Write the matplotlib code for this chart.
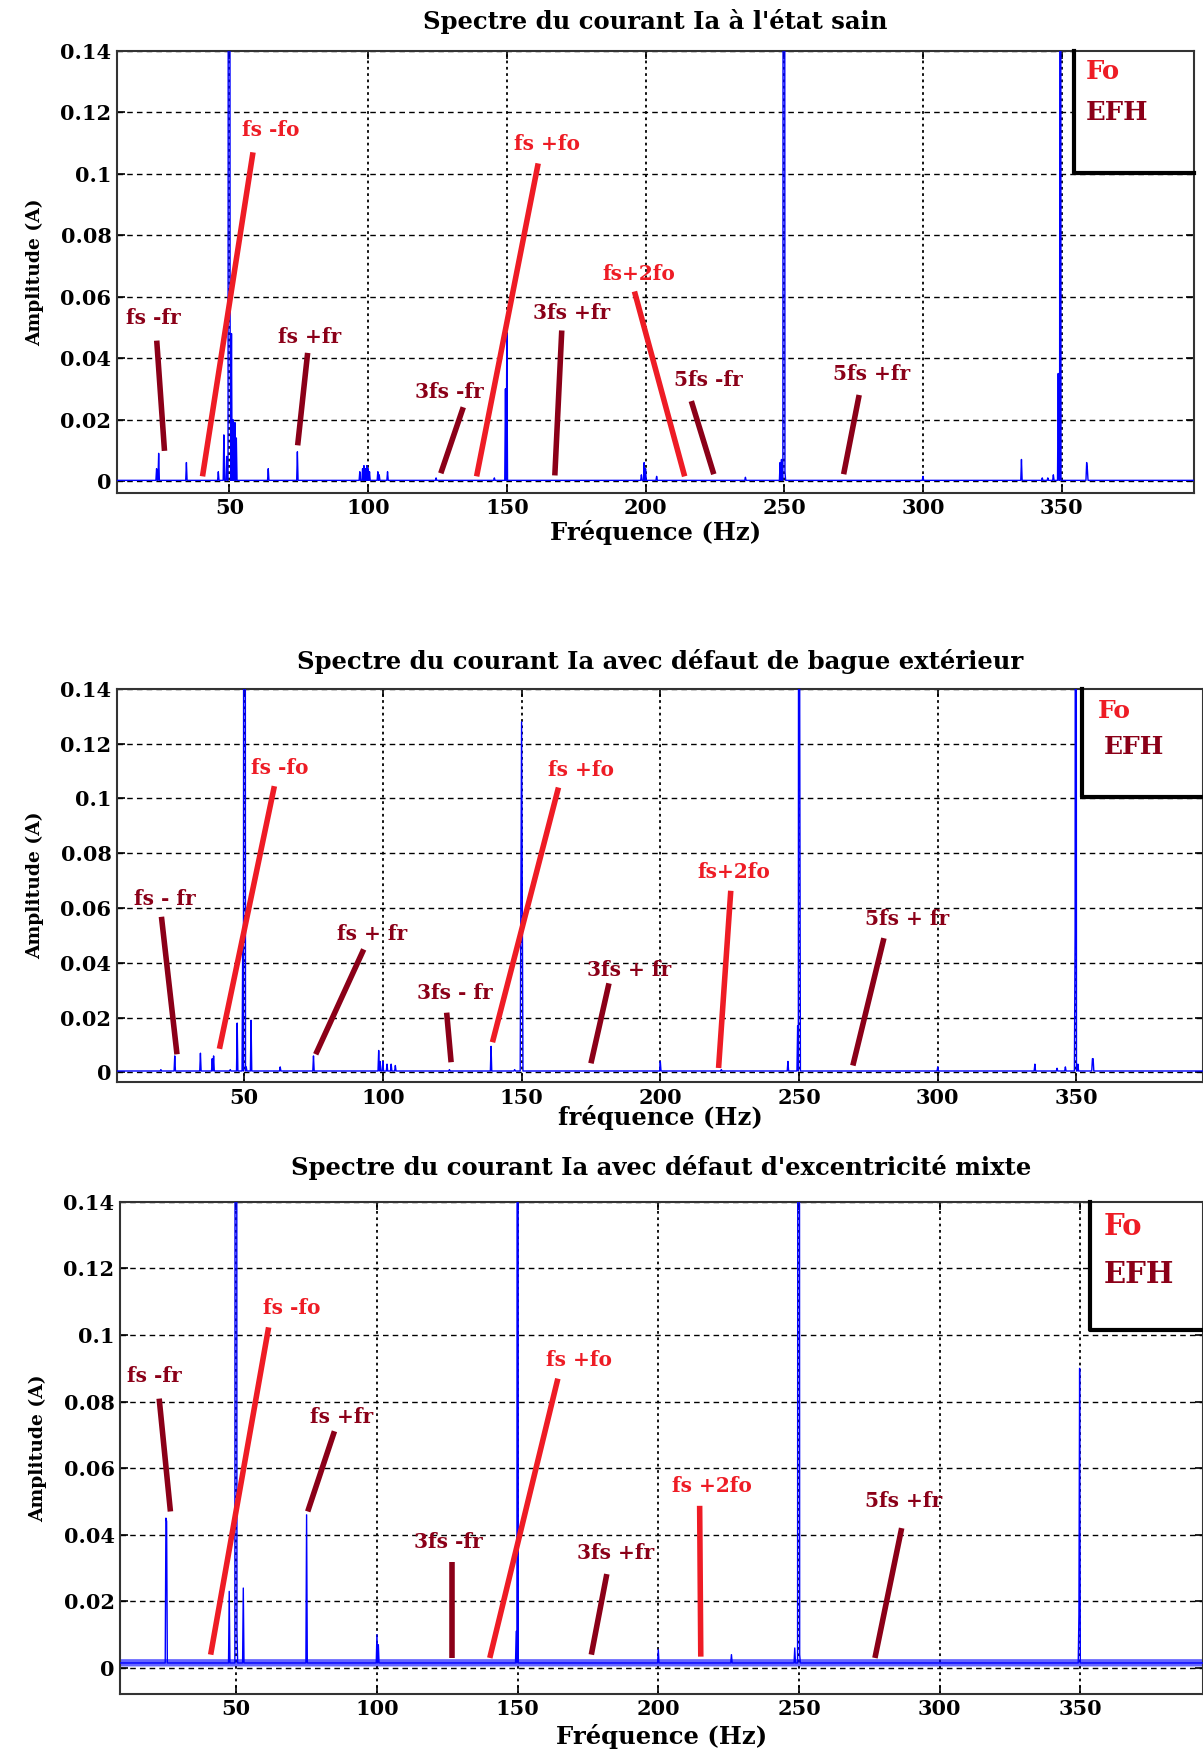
import numpy as np
import matplotlib
matplotlib.use("Agg")
import matplotlib.pyplot as plt
from matplotlib.patches import Rectangle

# ---- data ----
TITLES = ["Spectre du courant Ia à l'état sain",
          "Spectre du courant Ia avec défaut de bague extérieur",
          "Spectre du courant Ia avec défaut d'excentricité mixte"]
XLABELS = ["Fréquence (Hz)", "fréquence (Hz)", "Fréquence (Hz)"]
YTICKS = [0, 0.02, 0.04, 0.06, 0.08, 0.1, 0.12, 0.14]
YTICKLABELS = ["0", "0.02", "0.04", "0.06", "0.08", "0.1", "0.12", "0.14"]
XTICKS = [50, 100, 150, 200, 250, 300, 350]

# spectrum peaks (Hz, A); tall peaks are clipped by the axis
p1_freq = [23.8, 24.5, 34.5, 46, 48, 49, 49.75, 50, 50.25, 50.75, 51.25, 52, 52.5,
           64, 74.5, 97, 98, 98.5, 99, 99.5, 100, 100.5, 103.5, 104, 107, 124.5,
           145.5, 149.5, 150, 198.5, 199.5, 200, 204, 236, 248.5, 249, 249.75, 250,
           250.25, 300, 335.5, 343, 345, 347, 348.75, 349.5, 359, 359.25]
p1_amp = [0.004, 0.009, 0.006, 0.003, 0.015, 0.008, 0.6, 0.6, 0.053, 0.048, 0.02, 0.019, 0.014,
          0.004, 0.0095, 0.003, 0.004, 0.005, 0.004, 0.005, 0.004, 0.003, 0.003, 0.002, 0.003, 0.001,
          0.001, 0.03, 0.048, 0.002, 0.006, 0.004, 0.0015, 0.0012, 0.006, 0.007, 0.6, 0.6,
          0.003, 0.0015, 0.007, 0.001, 0.001, 0.002, 0.035, 0.6, 0.006, 0.004]
p1_floor = 0.0002

p2_freq = [20, 25, 34.25, 38.5, 39, 45, 47.5, 49.5, 50, 50.25, 50.75, 52.5, 63, 75,
           98.5, 99, 100, 101.5, 103, 104.5, 124, 139, 147.5, 149.75, 150, 150.25,
           200, 222, 246, 249.5, 250, 250.25, 300, 335, 343, 346, 349.5, 349.75,
           350.5, 355.75, 356]
p2_amp = [0.001, 0.006, 0.007, 0.005, 0.006, 0.001, 0.018, 0.05, 0.6, 0.6, 0.002, 0.019, 0.002, 0.006,
          0.008, 0.004, 0.004, 0.003, 0.003, 0.0025, 0.001, 0.0095, 0.001, 0.065, 0.128, 0.06,
          0.004, 0.001, 0.004, 0.017, 0.6, 0.131, 0.002, 0.003, 0.0015, 0.002, 0.051, 0.6,
          0.003, 0.005, 0.005]
p2_floor = 0.0005

p3_freq = [25, 25.25, 47.5, 49.75, 50, 50.25, 52.5, 75, 100, 100.5, 149.5, 150,
           200, 226, 248.5, 249.75, 250, 250.25, 349.5, 349.75]
p3_amp = [0.045, 0.044, 0.023, 0.6, 0.6, 0.011, 0.024, 0.046, 0.010, 0.007, 0.011, 0.6,
          0.0055, 0.004, 0.006, 0.6, 0.6, 0.004, 0.016, 0.09]
p3_floor = 0.0015
p3_noise_lo = 0.0006
p3_noise_hi = 0.0028

# annotation segments: label, colour kind, label pos (Hz, A), line start, line end
p1_labels = ["fs -fr", "fs -fo", "fs +fr", "3fs -fr", "fs +fo", "3fs +fr", "fs+2fo", "5fs -fr", "5fs +fr"]
p1_kind = ["efh", "fo", "efh", "efh", "fo", "efh", "fo", "efh", "efh"]
p1_text_f = [22.6, 64.9, 79.0, 129.4, 164.5, 173.4, 197.6, 222.6, 281.5]
p1_text_a = [0.053, 0.1143, 0.0468, 0.029, 0.1096, 0.0548, 0.0675, 0.033, 0.0348]
p1_line_f0 = [23.8, 58.5, 78.2, 134.3, 161.3, 169.8, 196.0, 216.5, 277.0]
p1_line_a0 = [0.0457, 0.107, 0.0417, 0.024, 0.1034, 0.049, 0.0617, 0.026, 0.028]
p1_line_f1 = [26.6, 40.3, 74.6, 126.2, 139.1, 167.3, 214.1, 224.6, 271.4]
p1_line_a1 = [0.0098, 0.0015, 0.0116, 0.0025, 0.0015, 0.0018, 0.0015, 0.0022, 0.0022]

p2_labels = ["fs - fr", "fs -fo", "fs + fr", "3fs - fr", "fs +fo", "3fs + fr", "fs+2fo", "5fs + fr"]
p2_kind = ["efh", "fo", "efh", "efh", "fo", "efh", "fo", "efh"]
p2_text_f = [21.4, 62.9, 96.0, 125.8, 171.4, 188.7, 226.6, 289.1]
p2_text_a = [0.0634, 0.111, 0.0506, 0.0288, 0.1103, 0.0374, 0.0733, 0.056]
p2_line_f0 = [20.2, 60.9, 93.1, 123.0, 163.3, 181.5, 225.4, 280.6]
p2_line_a0 = [0.0568, 0.1045, 0.0449, 0.0218, 0.104, 0.0325, 0.0663, 0.049]
p2_line_f1 = [25.8, 41.1, 75.8, 124.6, 139.5, 175.0, 221.0, 269.4]
p2_line_a1 = [0.0066, 0.0086, 0.0066, 0.0037, 0.011, 0.0033, 0.0016, 0.0025]

p3_labels = ["fs -fr", "fs -fo", "fs +fr", "3fs -fr", "fs +fo", "3fs +fr", "fs +2fo", "5fs +fr"]
p3_kind = ["efh", "fo", "efh", "efh", "fo", "efh", "fo", "efh"]
p3_text_f = [21.0, 69.8, 87.3, 125.4, 171.8, 184.9, 219.0, 287.3]
p3_text_a = [0.0876, 0.108, 0.0755, 0.0379, 0.0926, 0.0346, 0.0547, 0.05]
p3_line_f0 = [22.6, 61.5, 84.9, 126.6, 164.3, 181.7, 214.7, 286.5]
p3_line_a0 = [0.0809, 0.1023, 0.0711, 0.0319, 0.0869, 0.0282, 0.0487, 0.042]
p3_line_f1 = [26.6, 40.9, 75.4, 126.6, 140.1, 176.2, 215.1, 277.0]
p3_line_a1 = [0.047, 0.004, 0.047, 0.003, 0.003, 0.004, 0.0034, 0.003]

# ---- style ----
FO_RED = "#ee1c25"
EFH_RED = "#8b0018"
BLUE = "#0000ff"
FONT = "DejaVu Serif"
plt.rcParams["font.family"] = FONT
plt.rcParams["font.weight"] = "bold"

freq = np.arange(0, 400.01, 0.25)


def build_spectrum(peak_f, peak_a, floor):
    spec = np.full_like(freq, floor)
    for f, a in zip(peak_f, peak_a):
        spec[np.argmin(np.abs(freq - f))] = a
    return spec


def draw_panel(ax, title, xlabel, xlim, ylim, spec, labels, kinds, tf, ta,
               f0, a0, f1, a1, box, legend_size, title_pad, xlabel_pad, noise=None):
    if noise is not None:
        ax.fill_between(freq, noise[0], noise[1], color=BLUE, alpha=0.6, lw=0, zorder=2)
    ax.plot(freq, spec, color=BLUE, lw=1.0, zorder=3)

    for lab, k, x, y, xa, ya, xb, yb in zip(labels, kinds, tf, ta, f0, a0, f1, a1):
        c = FO_RED if k == "fo" else EFH_RED
        ax.plot([xa, xb], [ya, yb], color=c, lw=4, solid_capstyle="butt", zorder=4)
        ax.text(x, y, lab, color=c, fontsize=14.5, fontweight="bold",
                ha="center", va="center", zorder=5)

    ax.set_xlim(*xlim)
    ax.set_ylim(*ylim)
    ax.set_xticks(XTICKS)
    ax.set_yticks(YTICKS)
    ax.set_yticklabels(YTICKLABELS)
    ax.tick_params(direction="in", length=6, width=1.2, labelsize=15,
                   top=True, right=True, pad=4)
    for lab in ax.get_xticklabels() + ax.get_yticklabels():
        lab.set_fontweight("bold")
    ax.grid(axis="y", color="black", linestyle=(0, (4, 3)), lw=1.0)
    ax.grid(axis="x", color="black", linestyle=(0, (1.5, 2)), lw=1.3)
    ax.set_axisbelow(True)
    for s in ax.spines.values():
        s.set_linewidth(1.5)
        s.set_color("#333333")

    ax.set_title(title, fontsize=17.5, fontweight="bold", pad=title_pad)
    ax.set_xlabel(xlabel, fontsize=17.5, fontweight="bold", labelpad=xlabel_pad)
    ax.set_ylabel("Amplitude (A)", fontsize=13.5, fontweight="bold", labelpad=12)

    # the Fo / EFH key box in the upper right corner (white, hides the grid)
    bx, by, fo_xy, efh_xy = box
    ax.add_patch(Rectangle((bx, by), 1.0 - bx, 1.0 - by, transform=ax.transAxes,
                           facecolor="white", edgecolor="none", zorder=1.5))
    ax.plot([bx, bx, 1.0], [1.0, by, by], color="black", lw=3,
            transform=ax.transAxes, clip_on=False, zorder=6)
    ax.text(fo_xy[0], fo_xy[1], "Fo", color=FO_RED, fontsize=legend_size,
            fontweight="bold", ha="left", va="center", transform=ax.transAxes)
    ax.text(efh_xy[0], efh_xy[1], "EFH", color=EFH_RED, fontsize=legend_size,
            fontweight="bold", ha="left", va="center", transform=ax.transAxes)


fig = plt.figure(figsize=(12.03, 17.53), dpi=100)

ax1 = fig.add_axes([0.0973, 0.7188, 0.895, 0.2521])
draw_panel(ax1, TITLES[0], XLABELS[0], (9.5, 397.6), (-0.0039, 0.14),
           build_spectrum(p1_freq, p1_amp, p1_floor),
           p1_labels, p1_kind, p1_text_f, p1_text_a,
           p1_line_f0, p1_line_a0, p1_line_f1, p1_line_a1,
           (0.889, 0.724, (0.900, 0.954), (0.900, 0.861)), 18.5, 16, 1)

ax2 = fig.add_axes([0.0973, 0.3828, 0.9027, 0.2242])
draw_panel(ax2, TITLES[1], XLABELS[1], (4.2, 395.6), (-0.0035, 0.14),
           build_spectrum(p2_freq, p2_amp, p2_floor),
           p2_labels, p2_kind, p2_text_f, p2_text_a,
           p2_line_f0, p2_line_a0, p2_line_f1, p2_line_a1,
           (0.889, 0.724, (0.903, 0.943), (0.909, 0.852)), 18, 14, -1.5)

ax3 = fig.add_axes([0.0998, 0.0337, 0.9002, 0.2807])
draw_panel(ax3, TITLES[2], XLABELS[2], (8.7, 393.6), (-0.0078, 0.14),
           build_spectrum(p3_freq, p3_amp, p3_floor),
           p3_labels, p3_kind, p3_text_f, p3_text_a,
           p3_line_f0, p3_line_a0, p3_line_f1, p3_line_a1,
           (0.896, 0.739, (0.908, 0.95), (0.908, 0.852)), 21, 19, 3,
           noise=(p3_noise_lo, p3_noise_hi))

fig.savefig("out.png", dpi=100)
